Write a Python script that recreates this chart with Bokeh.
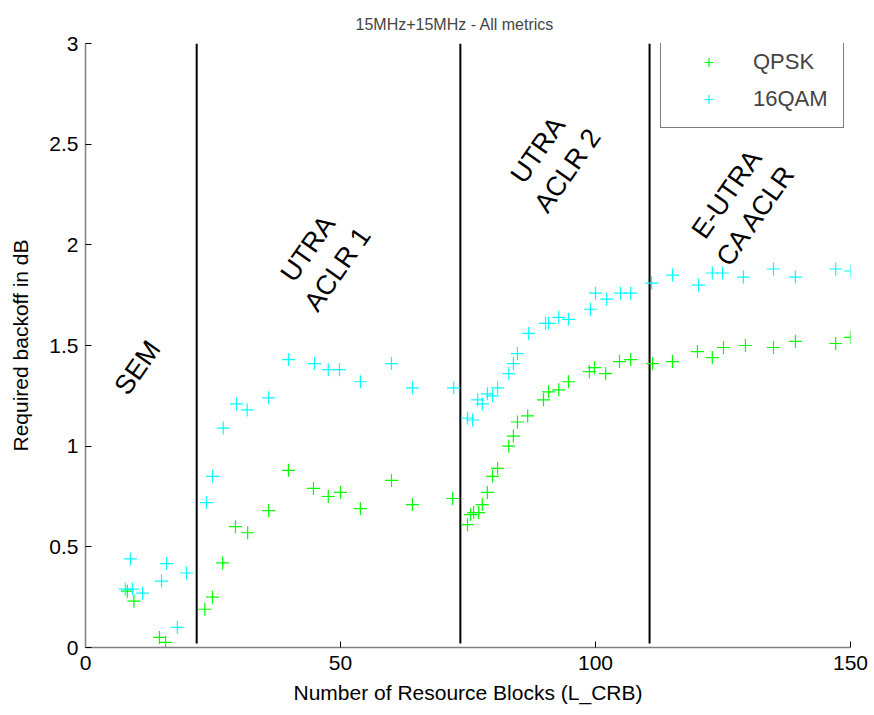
from bokeh.plotting import figure
from bokeh.models import Legend, LegendItem, FixedTicker, NumeralTickFormatter, ColumnDataSource, Range1d
from bokeh.core.properties import value
from bokeh.embed import file_html
from bokeh.resources import INLINE

title_text = "15MHz+15MHz - All metrics"
x_label = "Number of Resource Blocks (L_CRB)"
y_label = "Required backoff in dB"
x_ticks = [0, 50, 100, 150]
y_ticks = [0, 0.5, 1, 1.5, 2, 2.5, 3]

qpsk_x = [8.2, 9.5, 14.5, 15.7, 23.4, 24.9, 26.9, 29.4, 31.8, 35.9, 39.8, 44.7, 47.6, 50.0,
          53.9, 60.0, 64.1, 72.0, 74.9, 75.5, 76.1, 77.1, 77.8, 78.8, 79.8, 80.8, 83.0, 83.9,
          84.7, 86.7, 89.8, 90.8, 92.8, 94.7, 98.8, 99.8, 102.0, 104.7, 106.9, 111.2, 115.1,
          120.0, 122.9, 125.1, 129.4, 134.9, 139.2, 147.1, 150.0]
qpsk_y = [0.28, 0.23, 0.05, 0.025, 0.19, 0.25, 0.42, 0.60, 0.57, 0.68, 0.88, 0.79, 0.75, 0.77,
          0.69, 0.83, 0.71, 0.74, 0.61, 0.66, 0.67, 0.67, 0.71, 0.77, 0.85, 0.89, 1.00, 1.05,
          1.12, 1.15, 1.23, 1.27, 1.28, 1.32, 1.37, 1.39, 1.36, 1.42, 1.43, 1.41, 1.42,
          1.47, 1.44, 1.49, 1.50, 1.49, 1.52, 1.51, 1.54]

qam16_x = [7.8, 8.8, 9.2, 11.2, 14.9, 15.9, 18.0, 19.8, 23.7, 24.9, 27.0, 29.6, 31.7, 35.9,
           39.8, 44.9, 47.6, 49.8, 53.9, 60.0, 64.1, 72.2, 74.9, 75.9, 76.9, 77.8, 78.8, 79.8,
           80.8, 83.0, 83.9, 84.7, 86.9, 90.2, 90.8, 92.8, 94.7, 99.0, 100.0, 102.2, 104.9,
           106.9, 111.0, 115.1, 120.2, 122.9, 124.9, 129.0, 134.9, 139.2, 147.1, 150.0]
qam16_y = [0.29, 0.44, 0.29, 0.27, 0.33, 0.417, 0.10, 0.37, 0.72, 0.85, 1.09, 1.21, 1.18, 1.24,
           1.43, 1.41, 1.38, 1.38, 1.32, 1.41, 1.29, 1.29, 1.14, 1.13, 1.23, 1.21, 1.26, 1.25,
           1.29, 1.36, 1.41, 1.46, 1.56, 1.61, 1.61, 1.64, 1.63, 1.68, 1.76, 1.73, 1.76,
           1.76, 1.81, 1.85, 1.80, 1.86, 1.86, 1.84, 1.88, 1.84, 1.88, 1.87]

region_x = [21.8, 73.5, 110.6]
region_y0 = [0.02, 0.02, 0.02]
region_y1 = [3.0, 3.0, 3.0]

ann_text = ["SEM", "UTRA\nACLR 1", "UTRA\nACLR 2", "E-UTRA\nCA ACLR"]
ann_x = [10.2, 46.5, 91.6, 128.6]
ann_y = [1.39, 1.93, 2.42, 2.20]

FONT = "Liberation Sans"

p = figure(width=874, height=715, output_backend="svg", toolbar_location=None,
           x_range=Range1d(0, 150), y_range=Range1d(0, 3),
           min_border_left=85, min_border_right=24, min_border_top=43, min_border_bottom=68,
           title=title_text)
p.outline_line_color = None
p.xgrid.visible = False
p.ygrid.visible = False
p.background_fill_color = "white"
p.border_fill_color = "white"

p.title.text_font = FONT
p.title.text_font_size = "16px"
p.title.text_font_style = "normal"
p.title.align = "left"
p.title.offset = 270
p.title.standoff = 22

for ax in (p.xaxis[0], p.yaxis[0]):
    ax.axis_line_color = "#808080"
    ax.axis_line_width = 1.5
    ax.major_tick_in = 6
    ax.major_tick_out = 0
    ax.major_tick_line_color = "black"
    ax.minor_tick_line_color = None
    ax.major_label_text_font = FONT
    ax.major_label_text_font_size = "21px"
    ax.major_label_text_color = "black"
    ax.axis_label_text_font = FONT
    ax.axis_label_text_font_size = "21px"
    ax.axis_label_text_font_style = "normal"
    ax.axis_label_text_color = "black"

p.xaxis.ticker = FixedTicker(ticks=x_ticks)
p.yaxis.ticker = FixedTicker(ticks=y_ticks)
p.yaxis.formatter = NumeralTickFormatter(format="0.[0]")
p.xaxis.axis_label = x_label
p.yaxis.axis_label = y_label
p.xaxis.major_label_standoff = 8
p.yaxis.major_label_standoff = 7
p.xaxis.axis_label_standoff = 8
p.yaxis.axis_label_standoff = 14

p.segment(x0=region_x, y0=region_y0, x1=region_x, y1=region_y1,
          line_color="black", line_width=2)

r_qpsk = p.scatter(qpsk_x, qpsk_y, marker="cross", size=13, line_color="#00ff00", line_width=1.2)
r_qam = p.scatter(qam16_x, qam16_y, marker="cross", size=13, line_color="#00ffff", line_width=1.2)

src = ColumnDataSource(dict(x=ann_x, y=ann_y, t=ann_text))
p.text(x="x", y="y", text="t", source=src, angle=55, angle_units="deg",
       text_align="center", text_baseline="middle", text_font=value(FONT),
       text_font_size="27px", text_color="black", text_line_height=1.2)

legend = Legend(items=[LegendItem(label="QPSK", renderers=[r_qpsk]),
                       LegendItem(label="16QAM", renderers=[r_qam])],
                location=(575, 519))
legend.border_line_color = "black"
legend.border_line_width = 1.5
legend.background_fill_color = "white"
legend.background_fill_alpha = 1
legend.padding = 15
legend.spacing = 11
legend.glyph_width = 65
legend.glyph_height = 22
legend.label_height = 22
legend.label_width = 75
legend.label_standoff = 12
legend.label_text_font = FONT
legend.label_text_font_size = "22px"
legend.margin = 0
p.add_layout(legend)

open("out.html", "w").write(file_html(p, INLINE))
